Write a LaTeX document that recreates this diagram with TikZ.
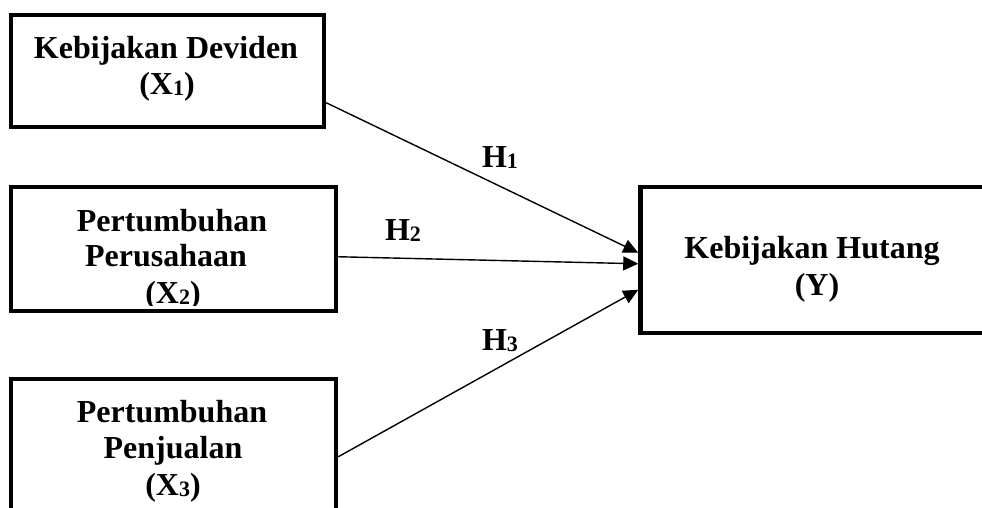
\documentclass[tikz,border=0pt]{standalone}
\usepackage{fontspec}
\setmainfont{Liberation Serif}
\usetikzlibrary{arrows.meta,calc}
\newcommand{\sbs}[1]{\raisebox{-1.5pt}{\fontsize{22}{22}\selectfont #1}}
\begin{document}
\begin{tikzpicture}[x=1pt,y=-1pt,
  box/.style={draw=black,line width=4.5pt,inner sep=0pt,minimum width=#1},
  txt/.style={anchor=base,inner sep=0pt,font=\bfseries\fontsize{32}{36}\selectfont},
  hyp/.style={-{Triangle[length=15pt,width=14pt]},line width=1.4pt}]
\useasboundingbox (0,0) rectangle (982,507);
\begin{scope}
\clip (0,0) rectangle (982,507);
% boxes
\node[box=313pt,minimum height=112pt] (b1) at (167.5,71) {};
\node[box=325pt,minimum height=124pt] (b2) at (173.5,249) {};
\node[box=325pt,minimum height=161pt] (b3) at (173.5,459.5) {};
\node[box=369.5pt,minimum height=146pt] (by) at (825.25,260) {};
% texts
\node[txt] (t1a) at (166,58) {Kebijakan Deviden};
\node[txt] (t1b) at (167,94) {(X\sbs{1})};
\node[txt] (t2a) at (172,231) {Pertumbuhan};
\node[txt] (t2b) at (166,266) {Perusahaan};
\node[txt] (t3a) at (172,422) {Pertumbuhan};
\node[txt] (t3b) at (173,458) {Penjualan};
\node[txt] (t3c) at (173,495) {(X\sbs{3})};
\node[txt] (tya) at (812,258) {Kebijakan Hutang};
\node[txt] (tyb) at (817,295) {(Y)};
\end{scope}
\begin{scope}
\clip (0,0) rectangle (982,305);
\node[txt] (t2c) at (173,303) {(X\sbs{2})};
\end{scope}
% connectors
\draw[hyp] ($(b1.north east)+(0,90)$) -- ($(by.north west)+(0,68)$);
\draw[hyp] ($(b2.north east)+(0,72)$) -- ($(by.north west)+(0,79)$);
\draw[hyp] ($(b3.north east)+(0,80)$) -- ($(by.north west)+(0,105)$);
% labels
\node[txt] (h1) at (500,167) {H\sbs{1}};
\node[txt] (h2) at (403,240) {H\sbs{2}};
\node[txt] (h3) at (500,350) {H\sbs{3}};
\end{tikzpicture}
\end{document}
